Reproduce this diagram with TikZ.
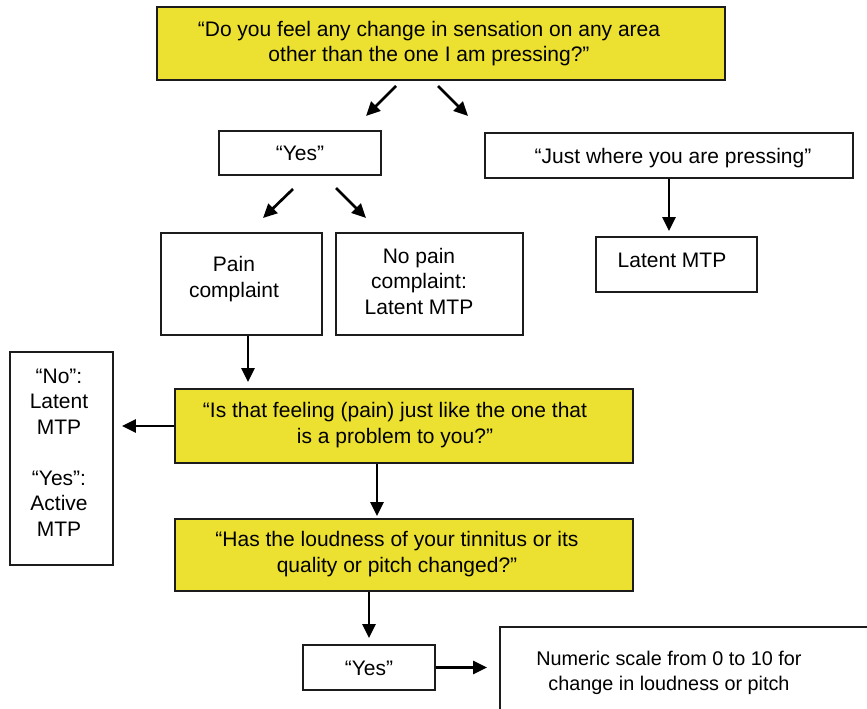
\documentclass[tikz,border=0pt]{standalone}
\usepackage{fontspec}
\setmainfont{Liberation Sans}
\usetikzlibrary{arrows.meta}
\definecolor{qyellow}{RGB}{236,225,48}
\definecolor{edge}{RGB}{28,28,28}
\begin{document}
\begin{tikzpicture}[x=1pt,y=-1pt,
  box/.style={draw=edge, line width=1.8pt, inner sep=0pt},
  ybox/.style={box, fill=qyellow},
  txt/.style={font=\fontsize{21}{25.5}\selectfont, align=center, inner sep=0pt, anchor=base},
  arr/.style={line width=2.7pt, -{Triangle[length=14pt,width=13pt]}}]
\useasboundingbox (0,0) rectangle (867,709);
\clip (0,0) rectangle (867,709);
% boxes
\node[ybox, minimum width=568pt, minimum height=73pt] (top) at (441,43.5) {};
\node[box, minimum width=162pt, minimum height=44pt] (yes1) at (300,153) {};
\node[box, minimum width=368pt, minimum height=45pt] (just) at (669,155.5) {};
\node[box, minimum width=161pt, minimum height=102pt] (pain) at (241.5,284) {};
\node[box, minimum width=187pt, minimum height=102pt] (nopain) at (429.5,284) {};
\node[box, minimum width=161pt, minimum height=55pt] (latent) at (676.5,264.5) {};
\node[box, minimum width=103pt, minimum height=213pt] (left) at (61.5,458.5) {};
\node[ybox, minimum width=458pt, minimum height=74pt] (isthat) at (404,426) {};
\node[ybox, minimum width=458pt, minimum height=72pt] (has) at (404,555) {};
\node[box, minimum width=132pt, minimum height=45pt] (yes2) at (369,667.5) {};
\node[box, minimum width=400pt, minimum height=113pt] (numeric) at (700,683.5) {};
% texts (anchored at the baseline of their last line)
\node[txt] (topT) at (429,62) {“Do you feel any change in sensation on any area\\other than the one I am pressing?”};
\node[txt] (yes1T) at (300,160.5) {“Yes”};
\node[txt] (justT) at (673,163) {“Just where you are pressing”};
\node[txt] (painT) at (234,297) {Pain\\complaint};
\node[txt] (nopainT) at (419,314) {No pain\\complaint:\\Latent MTP};
\node[txt] (latentT) at (672,267) {Latent MTP};
\node[txt] (leftT) at (59,536) {“No”:\\Latent\\MTP\\[25.5pt]“Yes”:\\Active\\MTP};
\node[txt] (isthatT) at (395,443) {“Is that feeling (pain) just like the one that\\is a problem to you?”};
\node[txt] (hasT) at (397,572) {“Has the loudness of your tinnitus or its\\quality or pitch changed?”};
\node[txt] (yes2T) at (369,675) {“Yes”};
\node[txt, font=\fontsize{19.8}{24.5}\selectfont] (numericT) at (669,690) {Numeric scale from 0 to 10 for\\change in loudness or pitch};
% free arrows
\coordinate (a1s) at (396,86);  \coordinate (a1e) at (366,116);
\coordinate (a2s) at (438,86);  \coordinate (a2e) at (468,116);
\coordinate (a3s) at (293,189); \coordinate (a3e) at (263,218);
\coordinate (a4s) at (336,188); \coordinate (a4e) at (366,218);
\draw[arr] (a1s) -- (a1e);
\draw[arr] (a2s) -- (a2e);
\draw[arr] (a3s) -- (a3e);
\draw[arr] (a4s) -- (a4e);
% connectors
\draw[arr, shorten >=5pt] (just.south) -- (just.south |- latent.north);
\coordinate (p6) at ([xshift=6.5pt]pain.south);
\draw[arr, shorten >=6pt] (p6) -- (p6 |- isthat.north);
\draw[arr, shorten >=8pt] (isthat.west) -- (isthat.west -| left.east);
\coordinate (p8) at ([xshift=-27pt]isthat.south);
\draw[arr, shorten >=2pt] (p8) -- (p8 |- has.north);
\draw[arr, shorten >=6pt] (has.south -| yes2.north) -- (yes2.north);
\draw[arr, shorten >=12pt] (yes2.east) -- (yes2.east -| numeric.west);
\end{tikzpicture}
\end{document}
